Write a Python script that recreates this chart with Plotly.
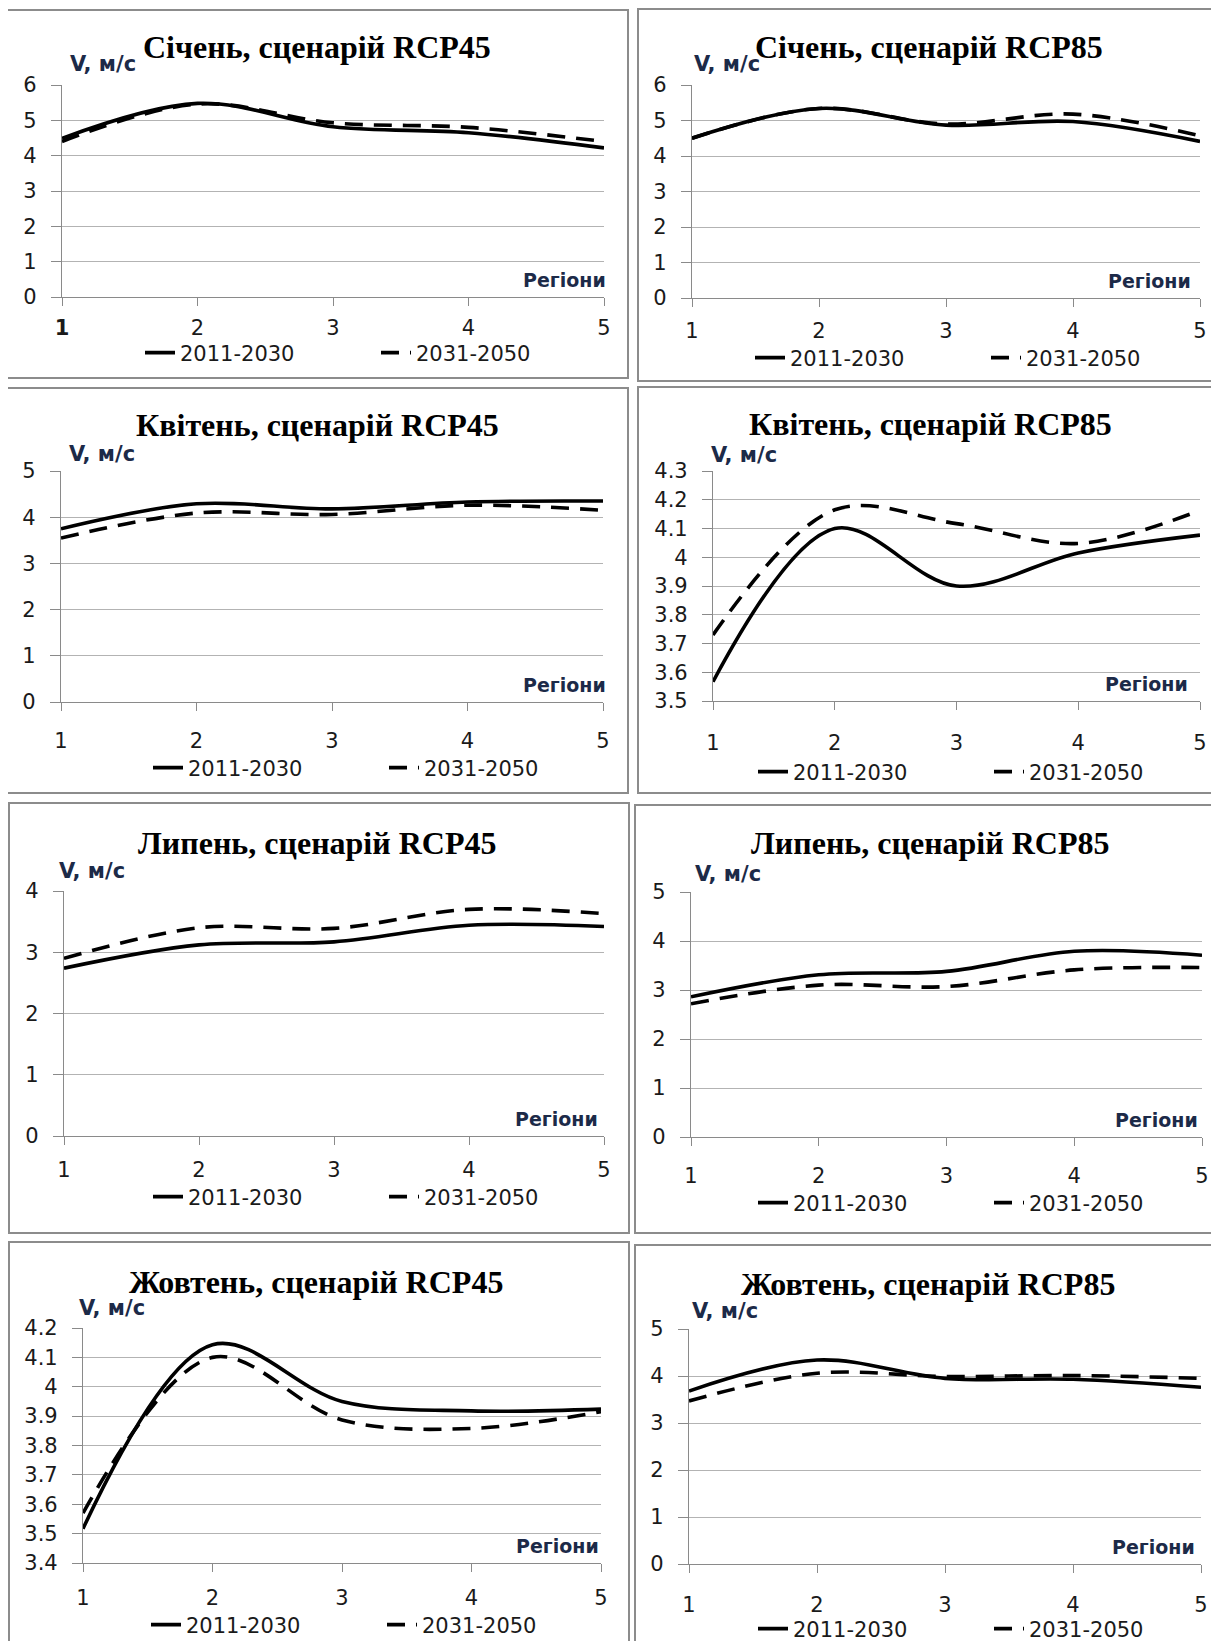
import plotly.graph_objects as go

# ---------------- data ----------------
regions = [1, 2, 3, 4, 5]
series_names = ["2011-2030", "2031-2050"]

titles = [
    "Січень, сценарій RCP45", "Січень, сценарій RCP85",
    "Квітень, сценарій RCP45", "Квітень, сценарій RCP85",
    "Липень, сценарій RCP45", "Липень, сценарій RCP85",
    "Жовтень, сценарій RCP45", "Жовтень, сценарій RCP85",
]

jan45_2011 = [4.49, 5.48, 4.82, 4.65, 4.22]
jan45_2031 = [4.40, 5.46, 4.93, 4.80, 4.40]
jan85_2011 = [4.50, 5.34, 4.87, 4.97, 4.41]
jan85_2031 = [4.50, 5.34, 4.90, 5.18, 4.57]
apr45_2011 = [3.75, 4.29, 4.18, 4.33, 4.35]
apr45_2031 = [3.55, 4.09, 4.06, 4.26, 4.15]
apr85_2011 = [3.567, 4.10, 3.90, 4.015, 4.077]
apr85_2031 = [3.73, 4.165, 4.117, 4.048, 4.163]
jul45_2011 = [2.74, 3.12, 3.17, 3.44, 3.42]
jul45_2031 = [2.90, 3.40, 3.39, 3.70, 3.63]
jul85_2011 = [2.86, 3.31, 3.38, 3.79, 3.71]
jul85_2031 = [2.72, 3.10, 3.07, 3.41, 3.46]
oct45_2011 = [3.517, 4.143, 3.95, 3.918, 3.924]
oct45_2031 = [3.57, 4.10, 3.887, 3.858, 3.915]
oct85_2011 = [3.68, 4.34, 3.95, 3.93, 3.76]
oct85_2031 = [3.47, 4.06, 3.99, 4.01, 3.95]

panel_series = [
    (jan45_2011, jan45_2031), (jan85_2011, jan85_2031),
    (apr45_2011, apr45_2031), (apr85_2011, apr85_2031),
    (jul45_2011, jul45_2031), (jul85_2011, jul85_2031),
    (oct45_2011, oct45_2031), (oct85_2011, oct85_2031),
]

y_ranges = [(0, 6), (0, 6), (0, 5), (3.5, 4.3), (0, 4), (0, 5), (3.4, 4.2), (0, 5)]
y_dticks = [1, 1, 1, 0.1, 1, 1, 0.1, 1]

x_label = "Регіони"
y_label = "V, м/с"

# ---------------- layout geometry (page pixels) ----------------
PAGE_W, PAGE_H = 1219, 1649
BODY = 8                      # default body margin of the html page
W, H = PAGE_W - 2 * BODY, PAGE_H - 2 * BODY
def px(x): return (x - BODY) / W
def py(y): return 1 - (y - BODY) / H

# plot areas: x0, x1, ytop, ybottom
plot_boxes = [
    (62, 604, 85, 297), (692, 1200, 85, 298),
    (61, 603, 471, 702), (713, 1200, 471, 701),
    (64, 604, 891, 1136), (691, 1202, 892, 1137),
    (83, 601, 1328, 1563), (689, 1201, 1329, 1564),
]
# panel frames: x0, y0, x1, y1
frames = [
    (7, 10, 628, 378), (638, 9, 1230, 381),
    (7, 388, 628, 793), (638, 387, 1230, 793),
    (9, 803, 629, 1233), (635, 805, 1230, 1233),
    (9, 1242, 629, 1660), (635, 1245, 1230, 1660),
]
title_pos = [(317, 47), (929, 47), (317, 425), (930, 424),
             (317, 843), (930, 843), (316, 1282), (928, 1284)]
# "V, м/с" label: left x, centre y
ylab_pos = [(68, 64), (692, 64), (67, 454), (709, 455),
            (57, 871), (693, 874), (77, 1308), (690, 1311)]
# legend: x where first label text starts, y centre
legend_pos = [(182, 353), (792, 358), (190, 768), (795, 772),
              (190, 1197), (795, 1203), (188, 1625), (795, 1629)]
xlab_dx = [4, -7, 5, -10, -4, -2, 0, -4]
xtick_standoff = [4, 6, 12, 15, 7, 12, 8, 14]

grid_c = "#b3b3b3"
axis_c = "#8a8a8a"
text_c = "#1a1a1a"
label_c = "#1c2a48"
sans = "'DejaVu Sans', sans-serif"
tick_font = dict(family=sans, size=21, color=text_c)

fig = go.Figure()
layout = dict(
    width=W, height=H,
    margin=dict(l=0, r=0, t=0, b=0, autoexpand=False),
    paper_bgcolor="white", plot_bgcolor="white",
    showlegend=True,
)
annotations = []
shapes = []

for i in range(8):
    n = "" if i == 0 else str(i + 1)
    xa, ya = "x" + n, "y" + n
    x0, x1, yt, yb = plot_boxes[i]
    s_new, s_old = panel_series[i]
    leg = "legend" + n
    fig.add_trace(go.Scatter(
        x=regions, y=s_new, mode="lines", name=series_names[0],
        line=dict(color="black", width=3.6, shape="spline", smoothing=1),
        xaxis=xa, yaxis=ya, legend=leg, hoverinfo="x+y"))
    fig.add_trace(go.Scatter(
        x=regions, y=s_old, mode="lines", name=series_names[1],
        line=dict(color="black", width=3.6, dash="18px,11px", shape="spline", smoothing=1),
        xaxis=xa, yaxis=ya, legend=leg, hoverinfo="x+y"))

    xtext = [str(r) for r in regions]
    if i == 0:
        xtext[0] = "<b>1</b>"
    layout["xaxis" + n] = dict(
        domain=[px(x0), px(x1)], anchor=ya, range=[1, 5],
        tickmode="array", tickvals=regions, ticktext=xtext,
        showgrid=False, zeroline=False, showline=True, linecolor=axis_c, linewidth=1.2,
        ticks="outside", ticklen=8, tickcolor=axis_c, tickwidth=1.2, automargin=False,
        tickfont=tick_font, ticklabelstandoff=xtick_standoff[i], fixedrange=True,
    )
    layout["yaxis" + n] = dict(
        domain=[py(yb), py(yt)], anchor=xa, range=list(y_ranges[i]),
        tick0=y_ranges[i][0], dtick=y_dticks[i],
        showgrid=True, gridcolor=grid_c, gridwidth=1, zeroline=False,
        showline=True, linecolor=axis_c, linewidth=1.2, automargin=False,
        ticks="outside", ticklen=10, tickcolor=axis_c, tickwidth=1.2,
        tickfont=tick_font, ticklabelstandoff=10, fixedrange=True,
    )
    lx, ly = legend_pos[i]
    layout[leg] = dict(
        orientation="h", x=px(lx - 42), y=py(ly), xanchor="left", yanchor="middle",
        font=dict(family=sans, size=21, color=text_c),
        bgcolor="rgba(0,0,0,0)", entrywidth=191, entrywidthmode="pixels",
        itemclick=False, itemdoubleclick=False,
    )
    tx, ty = title_pos[i]
    annotations.append(dict(
        text="<b>" + titles[i] + "</b>", x=px(tx), y=py(ty), xref="paper", yref="paper",
        xanchor="center", yanchor="middle", showarrow=False,
        font=dict(family="'Liberation Serif', 'Times New Roman', serif", size=32, color="black")))
    vx, vy = ylab_pos[i]
    annotations.append(dict(
        text="<b>" + y_label + "</b>", x=px(vx), y=py(vy), xref="paper", yref="paper",
        xanchor="left", yanchor="middle", showarrow=False,
        font=dict(family=sans, size=21, color=label_c)))
    annotations.append(dict(
        text="<b>" + x_label + "</b>", x=px(x1 + xlab_dx[i]), y=py(yb - 17), xref="paper", yref="paper",
        xanchor="right", yanchor="middle", showarrow=False,
        font=dict(family=sans, size=19, color=label_c)))
    fx0, fy0, fx1, fy1 = frames[i]
    shapes.append(dict(type="rect", xref="paper", yref="paper",
                       x0=px(fx0), x1=px(fx1), y0=py(fy1), y1=py(fy0),
                       line=dict(color="#8c8c8c", width=2), fillcolor="rgba(0,0,0,0)",
                       layer="below"))

layout["annotations"] = annotations
layout["shapes"] = shapes
fig.update_layout(**layout)
fig.write_html("out.html", config={"displayModeBar": False})
